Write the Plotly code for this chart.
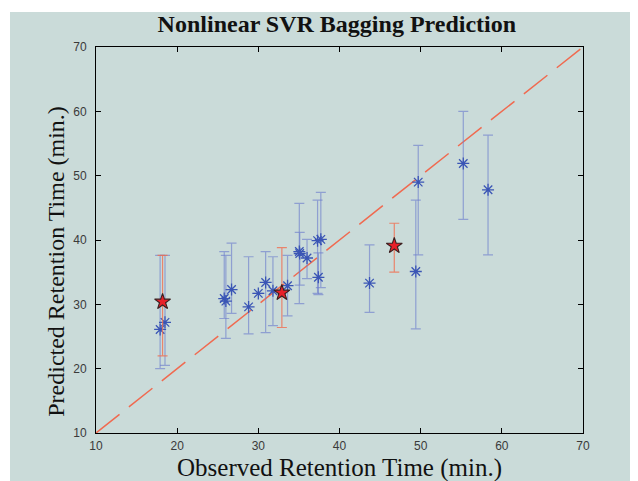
import plotly.graph_objects as go

# Blue points: observed, predicted, upper, lower
obs = [17.9, 18.5, 25.8, 26.0, 26.7, 28.8, 30.0, 30.9, 31.8, 33.6, 35.05, 35.1, 36.0,
       37.3, 37.7, 37.4, 43.7, 49.7, 49.4, 55.25, 58.3]
pred = [26.1, 27.2, 30.9, 30.5, 32.3, 29.6, 31.7, 33.4, 32.1, 32.9, 38.2, 37.9, 37.2,
        39.9, 40.1, 34.2, 33.3, 49.0, 35.1, 51.9, 47.8]
upper = [37.6, 37.6, 38.2, 37.6, 39.5, 37.4, 31.7, 38.2, 37.4, 37.6, 45.7, 41.2, 40.1,
         46.2, 47.4, 38.0, 39.25, 54.7, 46.2, 60.0, 56.3]
lower = [20.0, 20.5, 27.8, 24.7, 28.6, 25.4, 31.7, 25.6, 26.7, 28.2, 30.1, 33.0, 34.0,
         31.7, 32.6, 31.5, 28.75, 37.7, 26.2, 43.2, 37.7]

# Red star points
star_obs = [18.2, 32.9, 46.75]
star_pred = [30.4, 31.8, 39.1]
star_upper = [37.6, 38.8, 42.6]
star_lower = [22.0, 26.4, 35.0]

diag = [10, 70]
ticks = [10, 20, 30, 40, 50, 60, 70]

fig = go.Figure()

fig.add_trace(go.Scatter(x=diag, y=diag, mode="lines",
                         line=dict(color="#f06a50", width=1.5, dash="30px,12px"),
                         showlegend=False, hoverinfo="skip"))

fig.add_trace(go.Scatter(
    x=obs, y=pred, mode="markers",
    marker=dict(symbol="asterisk-open", size=10, color="#3a55b5",
                line=dict(color="#3a55b5", width=1.3)),
    error_y=dict(type="data", symmetric=False,
                 array=[u - p for u, p in zip(upper, pred)],
                 arrayminus=[p - l for p, l in zip(pred, lower)],
                 color="rgba(110,128,205,0.65)", thickness=1.2, width=5),
    showlegend=False))

fig.add_trace(go.Scatter(
    x=star_obs, y=star_pred, mode="markers",
    marker=dict(symbol="star", size=12, color="#e8202a",
                line=dict(color="#3a2020", width=1.1)),
    error_y=dict(type="data", symmetric=False,
                 array=[u - p for u, p in zip(star_upper, star_pred)],
                 arrayminus=[p - l for p, l in zip(star_pred, star_lower)],
                 color="rgba(240,110,80,0.8)", thickness=1.2, width=5),
    showlegend=False))

axis_common = dict(
    range=[10, 70], tickvals=ticks, ticks="inside", ticklen=5, tickcolor="black",
    showline=True, linecolor="black", linewidth=1, mirror="ticks",
    showgrid=False, zeroline=False,
    tickfont=dict(family="Liberation Sans", size=12, color="#3a3a3a"),
)

# page body has an 8px margin, so the figure is sized 630x473 to fill 638x481
fig.update_layout(
    width=630, height=473,
    margin=dict(l=88, r=55, t=39, b=48),
    paper_bgcolor="white", plot_bgcolor="white",
    title=dict(text="<b>Nonlinear SVR Bagging Prediction</b>",
               font=dict(family="Liberation Serif", size=24, color="#111111"),
               x=0.522, xanchor="center", y=0.966, yanchor="middle"),
    xaxis=dict(axis_common, ticklabelstandoff=2),
    yaxis=dict(axis_common, ticklabelstandoff=6),
    annotations=[
        dict(text="Observed Retention Time (min.)", xref="paper", yref="paper",
             x=0.5, y=-0.05, xanchor="center", yanchor="top", showarrow=False,
             font=dict(family="Liberation Serif", size=25, color="#111111")),
        dict(text="Predicted Retention Time (min.)", xref="paper", yref="paper",
             x=-0.081, y=0.445, xanchor="center", yanchor="middle", showarrow=False,
             textangle=-90,
             font=dict(family="Liberation Serif", size=24, color="#111111")),
    ],
    shapes=[dict(type="rect", xref="paper", yref="paper",
                 x0=-0.1766, x1=1.12, y0=-0.13, y1=1.0907,
                 fillcolor="#cadbd9", line=dict(width=0), layer="below")],
)

fig.write_html("out.html")
